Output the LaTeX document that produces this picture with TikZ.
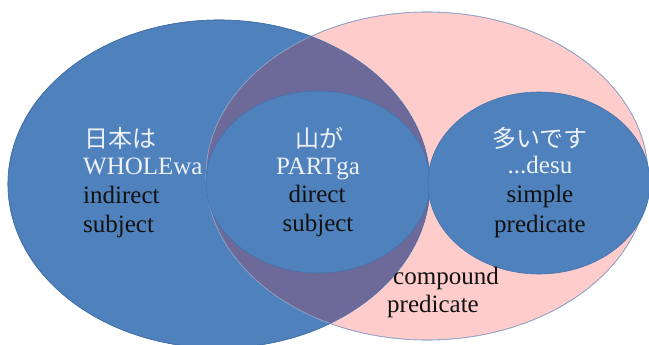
\documentclass[tikz,border=0pt]{standalone}
\usepackage{fontspec}
\setmainfont{Liberation Serif}
\newfontfamily\jfont{Noto Sans CJK JP}
\definecolor{bigblue}{HTML}{4F81BD}
\definecolor{blueline}{HTML}{4372AA}
\definecolor{pinkfill}{HTML}{FFCCCC}
\definecolor{pinkline}{HTML}{8FA2C6}
\definecolor{overlap}{HTML}{6D6A9A}
\definecolor{lighttext}{HTML}{EEF2F8}
\definecolor{darktext}{HTML}{111111}
\tikzset{
  bluebox/.style={fill=bigblue, draw=blueline, line width=0.6pt},
  pinkbox/.style={fill=pinkfill, draw=pinkline, line width=0.6pt},
  lab/.style={inner sep=0pt, font=\fontsize{25}{29}\selectfont},
  jlab/.style={inner sep=0pt, font=\jfont\fontsize{24}{29}\selectfont, text=lighttext},
  lightlab/.style={lab, text=lighttext},
  darklab/.style={lab, text=darktext}
}
\begin{document}
\begin{tikzpicture}[x=1pt,y=-1pt]
\useasboundingbox (0,0) rectangle (649,345);
\clip (0,0) rectangle (649,345);
\fill[white] (0,0) rectangle (649,345);
% big ellipses
\path[bluebox] (219,184) ellipse [x radius=211, y radius=164];
\path[pinkbox] (427,176) ellipse [x radius=221, y radius=164];
\begin{scope}
  \clip (219,184) ellipse [x radius=211, y radius=164];
  \fill[overlap] (427,176) ellipse [x radius=221, y radius=164];
\end{scope}
\draw[pinkline, line width=0.6pt] (427,176) ellipse [x radius=221, y radius=164];
\draw[blueline, line width=0.6pt] (219,184) ellipse [x radius=211, y radius=164];
% inner ellipses
\path[bluebox] (318,182) ellipse [x radius=112, y radius=91];
\path[bluebox] (539,183) ellipse [x radius=111, y radius=91];
% left block
\node[jlab, anchor=base west] (l1) at (84,148) {日本は};
\node[lightlab, anchor=base west] (l2) at (83,175) {WHOLEwa};
\node[darklab, anchor=base west] (l3) at (83,204) {indirect};
\node[darklab, anchor=base west] (l4) at (83,232) {subject};
% middle block
\node[jlab, anchor=base] (m1) at (319,147) {山が};
\node[lightlab, anchor=base] (m2) at (318,175) {PARTga};
\node[darklab, anchor=base] (m3) at (317,203) {direct};
\node[darklab, anchor=base] (m4) at (318,231) {subject};
% right block
\node[jlab, anchor=base] (r1) at (540,147) {多いです};
\node[lightlab, anchor=base] (r2) at (540,174) {...desu};
\node[darklab, anchor=base] (r3) at (540,203) {simple};
\node[darklab, anchor=base] (r4) at (540,232) {predicate};
% compound predicate
\node[darklab, anchor=base west] (c1) at (393,284) {compound};
\node[darklab, anchor=base west] (c2) at (387,312) {predicate};
\end{tikzpicture}
\end{document}
